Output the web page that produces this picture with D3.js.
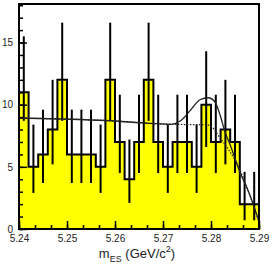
<!DOCTYPE html>
<html lang="en">
<head>
<meta charset="UTF-8">
<title>mES</title>
<script src="https://d3js.org/d3.v7.min.js"></script>
<style>
	body { margin: 0; background: #fff; }
	svg { display: block; font-family: "Liberation Sans", Arial, sans-serif; }
	.tick text { fill: #222; font-size: 10px; }
</style>
</head>
<body>
<div id="viz"></div>
<script>
	// histogram: 25 bins of 0.002 GeV from 5.24
	var binStart = 5.24;
	var binWidth = 0.002;
	var counts = [11, 5, 6, 8, 12, 6, 6, 6, 5, 12, 7, 4, 7, 12, 7, 5, 7, 7, 5, 10, 7, 8, 7, 2, 2];
	var errLow = [8.7, 2.9, 3.7, 5.2, 8.7, 3.7, 3.7, 3.7, 2.9, 8.7, 4.5, 2.1, 4.5, 8.7, 4.5, 2.9, 4.5, 4.5, 2.9, 6.6, 4.5, 5.2, 4.5, 0.7, 0.7];
	var errHigh = [15.5, 8.4, 9.6, 12.0, 16.6, 9.6, 9.6, 9.6, 8.4, 16.6, 10.8, 7.2, 10.8, 16.6, 10.8, 8.4, 10.8, 10.8, 8.4, 14.3, 10.8, 12.0, 10.8, 4.6, 4.6];

	// fit curves
	var fitM = [5.24, 5.2485, 5.258, 5.2673, 5.2715, 5.2738, 5.2756, 5.2777, 5.2794, 5.2808, 5.2819, 5.2829, 5.284, 5.286, 5.2881, 5.29];
	var fitY = [8.93, 8.85, 8.73, 8.5, 8.42, 8.75, 9.5, 10.4, 10.56, 10.24, 9.17, 7.83, 6.76, 4.61, 2.74, 0.6];
	var bkgM = [5.24, 5.2485, 5.258, 5.2673, 5.2725, 5.2756, 5.2788, 5.2802, 5.2819, 5.284, 5.2856, 5.2881, 5.29];
	var bkgY = [8.93, 8.85, 8.73, 8.5, 8.42, 8.4, 8.4, 8.2, 7.32, 6.19, 5.1, 2.7, 0.6];

	var yMajor = [0, 5, 10, 15];
	var xMajor = [5.24, 5.25, 5.26, 5.27, 5.28, 5.29];

	var width = 273, height = 267;
	var x = d3.scaleLinear().domain([5.24, 5.29]).range([19, 259]);
	var y = d3.scaleLinear().domain([0, 18.1]).range([229, 4]);

	var svg = d3.select('#viz').append('svg')
		.attr('width', width)
		.attr('height', height);

	var bins = counts.map(function (c, i) {
		return {x0: binStart + i * binWidth, x1: binStart + (i + 1) * binWidth, n: c, lo: errLow[i], hi: errHigh[i]};
	});
	var steps = bins.map(function (d) { return [d.x0, d.n]; });
	steps.push([bins[bins.length - 1].x1, bins[bins.length - 1].n]);

	svg.append('path')
		.datum(steps)
		.attr('fill', '#ffff00')
		.attr('d', d3.area().curve(d3.curveStepAfter)
			.x(function (d) { return x(d[0]); })
			.y0(y(0))
			.y1(function (d) { return y(d[1]); }));

	// outline, closed down to the baseline at both ends
	var outline = [[binStart, 0]].concat(steps).concat([[bins[bins.length - 1].x1, 0]]);
	svg.append('path')
		.datum(outline)
		.attr('fill', 'none')
		.attr('stroke', '#000')
		.attr('stroke-width', 2)
		.attr('d', d3.line().curve(d3.curveStepAfter)
			.x(function (d) { return x(d[0]); })
			.y(function (d) { return y(d[1]); }));

	svg.append('g').selectAll('line')
		.data(bins)
		.enter().append('line')
		.attr('x1', function (d) { return x((d.x0 + d.x1) / 2); })
		.attr('x2', function (d) { return x((d.x0 + d.x1) / 2); })
		.attr('y1', function (d) { return y(d.lo); })
		.attr('y2', function (d) { return y(d.hi); })
		.attr('stroke', '#000')
		.attr('stroke-width', 2);

	var line = d3.line().curve(d3.curveMonotoneX)
		.x(function (d) { return x(d[0]); })
		.y(function (d) { return y(d[1]); });

	svg.append('path')
		.datum(d3.zip(bkgM, bkgY))
		.attr('fill', 'none')
		.attr('stroke', '#222')
		.attr('stroke-width', 1.2)
		.attr('stroke-dasharray', '1.5,1.5')
		.attr('d', line);

	svg.append('path')
		.datum(d3.zip(fitM, fitY))
		.attr('fill', 'none')
		.attr('stroke', '#222')
		.attr('stroke-width', 1.3)
		.attr('d', line);

	// axes, ticks pointing inward
	svg.append('g')
		.attr('transform', 'translate(' + x.range()[0] + ',0)')
		.call(d3.axisLeft(y).tickValues(d3.range(0, 19)).tickSize(-4).tickFormat(''))
		.call(function (g) { g.select('.domain').remove(); });
	svg.append('g')
		.attr('transform', 'translate(' + x.range()[0] + ',0)')
		.call(d3.axisLeft(y).tickValues(yMajor).tickSizeInner(-8).tickSizeOuter(0))
		.call(function (g) { g.select('.domain').remove(); g.selectAll('text').attr('x', -6); });

	var xMinor = d3.range(0, 16).map(function (i) { return 5.24 + i * 0.01 / 3; });
	svg.append('g')
		.attr('transform', 'translate(0,' + y(0) + ')')
		.call(d3.axisBottom(x).tickValues(xMinor).tickSize(-4).tickFormat(''))
		.call(function (g) { g.select('.domain').remove(); });
	svg.append('g')
		.attr('transform', 'translate(0,' + y(0) + ')')
		.call(d3.axisBottom(x).tickValues(xMajor).tickSizeInner(-8).tickSizeOuter(0).tickFormat(d3.format('.2f')))
		.call(function (g) { g.select('.domain').remove(); g.selectAll('text').attr('y', 6); });

	svg.selectAll('.tick line').attr('stroke', '#000').attr('stroke-width', 1.5);

	svg.append('rect')
		.attr('x', x.range()[0])
		.attr('y', y.range()[1])
		.attr('width', x.range()[1] - x.range()[0])
		.attr('height', y.range()[0] - y.range()[1])
		.attr('fill', 'none')
		.attr('stroke', '#000')
		.attr('stroke-width', 2);

	var title = svg.append('text')
		.attr('x', 137)
		.attr('y', 258)
		.attr('text-anchor', 'middle')
		.attr('font-size', 13)
		.attr('fill', '#222');
	title.append('tspan').text('m');
	title.append('tspan').attr('dy', 4).attr('font-size', 9).text('ES');
	title.append('tspan').attr('dy', -4).text(' (GeV/c');
	title.append('tspan').attr('dy', -6).attr('font-size', 9).text('2');
	title.append('tspan').attr('dy', 6).text(')');
</script>
</body>
</html>
